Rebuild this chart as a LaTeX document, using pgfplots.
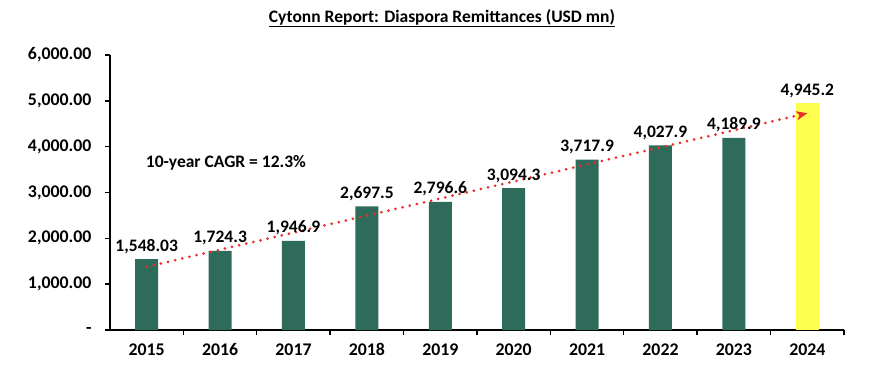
\documentclass[border=0pt]{standalone}
\usepackage{pgfplots}
\pgfplotsset{compat=1.18}
\usepackage{pgfplotstable}
\usepackage{fontspec}
\setmainfont{Carlito}
\usetikzlibrary{arrows.meta}
\definecolor{bargreen}{RGB}{46,107,91}
\definecolor{baryellow}{RGB}{255,255,80}
\definecolor{trendred}{RGB}{232,48,42}
\pgfplotstableread{
x y label
0 1548.03 {1,548.03}
1 1724.3 {1,724.3}
2 1946.9 {1,946.9}
3 2697.5 {2,697.5}
4 2796.6 {2,796.6}
5 3094.3 {3,094.3}
6 3717.9 {3,717.9}
7 4027.9 {4,027.9}
8 4189.9 {4,189.9}
}\greendata
\pgfplotstableread{
x y label
9 4945.2 {4,945.2}
}\yellowdata
\begin{document}
\begin{tikzpicture}
\path[use as bounding box] (-110pt,-46pt) rectangle (774pt,330pt);
\begin{axis}[
  at={(0pt,0pt)}, anchor=south west,
  scale only axis, width=734pt, height=275pt,
  xmin=-0.5, xmax=9.5, ymin=0, ymax=6000,
  axis x line*=bottom, axis y line*=left,
  axis line style={line width=1.6pt, black},
  every tick/.style={line width=1.4pt, black},
  tick align=outside, major tick length=5pt,
  xtick={0.5,1.5,...,9.5}, xticklabels={},
  extra x ticks={0,1,2,3,4,5,6,7,8,9},
  extra x tick labels={2015,2016,2017,2018,2019,2020,2021,2022,2023,2024},
  extra x tick style={major tick length=0pt, tick label style={yshift=-10pt}},
  ytick={0,1000,2000,3000,4000,5000,6000},
  yticklabels={-,{1,000.00},{2,000.00},{3,000.00},{4,000.00},{5,000.00},{6,000.00}},
  yticklabel style={xshift=-10pt},
  tick label style={font=\bfseries\fontsize{17.8}{17.8}\selectfont},
  ybar, bar width=23pt, bar shift=0pt,
  nodes near coords,
  point meta=explicit symbolic,
  nodes near coords style={font=\bfseries\fontsize{17.5}{17.5}\selectfont, anchor=base, yshift=8pt, black},
  clip=false,
]
\addplot[fill=bargreen, draw=none] table[x=x, y=y, meta=label] {\greendata};
\addplot[fill=baryellow, draw=none] table[x=x, y=y, meta=label] {\yellowdata};
\addplot[sharp plot, nodes near coords={}, trendred, line width=3pt, line cap=round,
  dash pattern=on 0pt off 7.3pt, -{Stealth[length=11pt,width=9pt,inset=3pt]}]
  coordinates {(0,1380) (9,4730)};
\node[font=\bfseries\fontsize{17.5}{17.5}\selectfont] at (axis cs:1.08,3644) {10-year CAGR = 12.3\%};
\end{axis}
\node[font=\bfseries\fontsize{17.5}{17.5}\selectfont] at (332pt,312pt) {\underline{Cytonn Report: Diaspora Remittances (USD mn)}};
\end{tikzpicture}
\end{document}
